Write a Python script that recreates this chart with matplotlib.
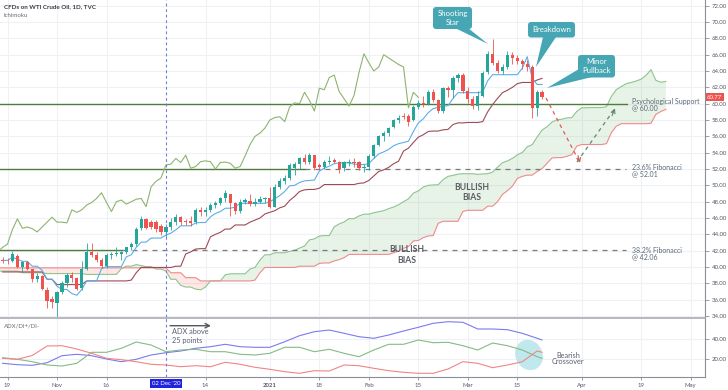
import numpy as np
import pandas as pd
import matplotlib
matplotlib.use("Agg")
import matplotlib.pyplot as plt
from matplotlib.patches import FancyBboxPatch, Polygon, Ellipse

plt.rcParams['font.family'] = ['Lato', 'DejaVu Sans']

# ---------------- data ----------------
first_candle = "2020-10-16"
opens = [40.85, 40.80, 40.75, 41.35, 40.00, 40.60, 39.70, 38.50, 38.90, 37.20,
         36.10, 35.60, 37.00, 38.00, 39.00, 38.60, 37.40, 39.80, 41.80, 41.50,
         40.90, 40.10, 41.50, 41.60, 41.65, 41.85, 42.40, 42.80, 44.75, 45.90,
         45.50, 45.50, 45.00, 44.30, 44.90, 45.50, 46.10, 45.65, 45.60, 45.50,
         47.00, 46.70, 47.00, 47.60, 47.90, 48.40, 48.90, 47.90, 46.80, 48.00,
         48.10, 47.70, 48.00, 48.30, 48.40, 47.40, 49.80, 50.50, 50.90, 52.10,
         52.60, 53.30, 52.80, 53.70, 52.50, 52.30, 52.90, 53.10, 52.90, 52.10,
         52.75, 52.90, 52.80, 52.10, 52.20, 53.60, 55.00, 56.00, 56.40, 57.10,
         58.00, 58.50, 58.50, 58.00, 59.60, 60.10, 60.00, 61.40, 60.40, 59.10,
         61.90, 61.70, 63.20, 63.50, 61.50, 60.60, 59.70, 61.00, 63.90, 66.10,
         65.00, 64.00, 64.50, 66.00, 65.60, 65.20, 64.80, 64.50, 59.50, 61.40]
highs = [41.20, 41.10, 42.00, 41.60, 40.80, 40.80, 39.80, 39.30, 39.00, 37.50,
         36.40, 37.10, 38.30, 39.30, 39.40, 38.80, 40.80, 42.90, 42.90, 41.90,
         41.10, 41.70, 41.80, 42.40, 42.00, 42.50, 43.10, 44.90, 46.20, 46.00,
         45.70, 45.80, 45.30, 45.30, 46.00, 46.50, 46.30, 45.90, 46.20, 47.20,
         47.30, 47.30, 47.80, 48.10, 48.60, 49.40, 49.00, 48.00, 48.30, 48.40,
         48.90, 48.40, 48.70, 48.60, 49.80, 50.20, 50.90, 51.30, 52.70, 52.80,
         53.50, 53.90, 54.00, 53.70, 52.70, 53.10, 53.60, 53.40, 53.00, 53.00,
         53.20, 53.30, 53.00, 52.60, 53.80, 55.10, 56.20, 56.60, 57.20, 58.10,
         58.60, 58.90, 58.70, 59.80, 60.50, 60.90, 61.70, 61.80, 60.60, 62.10,
         62.20, 63.40, 63.80, 63.70, 62.00, 61.00, 61.50, 64.00, 66.40, 67.90,
         65.40, 64.90, 66.40, 66.30, 66.00, 65.50, 65.40, 64.70, 61.70, 61.70]
lows = [40.45, 40.40, 40.60, 39.90, 39.40, 39.60, 38.20, 38.20, 37.20, 35.00,
        35.00, 33.70, 36.70, 37.60, 38.20, 37.20, 37.20, 39.60, 41.20, 40.60,
        39.90, 39.90, 41.00, 41.30, 40.90, 41.60, 42.10, 42.60, 44.50, 44.60,
        44.60, 44.30, 43.90, 43.60, 44.50, 45.20, 45.20, 45.10, 45.00, 45.30,
        46.20, 46.30, 46.70, 47.20, 47.60, 48.00, 46.20, 46.50, 46.60, 47.70,
        47.50, 47.50, 47.80, 47.90, 47.20, 47.30, 49.50, 50.20, 50.70, 51.30,
        52.00, 52.60, 52.60, 51.90, 51.90, 52.00, 52.60, 52.70, 51.50, 51.80,
        52.40, 52.30, 51.90, 51.60, 51.90, 53.40, 54.80, 55.40, 56.10, 57.00,
        57.60, 58.10, 57.30, 57.90, 59.40, 59.60, 59.80, 60.20, 58.90, 58.90,
        60.80, 60.70, 62.60, 61.30, 60.10, 59.30, 59.20, 60.80, 63.60, 64.70,
        63.70, 63.60, 64.30, 64.90, 64.90, 64.30, 64.00, 58.30, 58.50, 60.60]
closes = [40.75, 40.70, 41.60, 40.00, 40.60, 39.80, 38.50, 38.90, 37.30, 35.80,
          35.70, 37.00, 38.00, 39.00, 38.60, 37.30, 39.80, 41.80, 41.50, 40.90,
          40.10, 41.50, 41.60, 41.75, 41.85, 42.40, 42.80, 44.60, 45.90, 44.75,
          44.90, 44.70, 44.30, 44.90, 45.50, 46.10, 45.50, 45.50, 45.40, 47.00,
          46.70, 47.00, 47.60, 47.90, 48.40, 49.10, 47.90, 46.80, 48.00, 48.20,
          47.70, 48.00, 48.30, 48.40, 47.40, 49.80, 50.50, 50.90, 52.50, 52.60,
          53.30, 52.80, 53.70, 52.10, 52.30, 52.90, 53.00, 52.90, 52.00, 52.80,
          52.85, 52.70, 52.10, 52.30, 53.60, 55.00, 56.00, 56.40, 57.00, 58.00,
          58.30, 58.40, 57.80, 59.60, 60.10, 60.00, 61.40, 60.40, 59.10, 61.90,
          61.70, 63.20, 63.50, 61.50, 60.60, 59.70, 61.00, 63.80, 66.10, 65.00,
          64.00, 64.50, 66.00, 65.60, 65.20, 64.80, 64.50, 59.50, 61.40, 60.77]

# Ichimoku values before the visible history is long enough
kijun_early = [39.4, 39.4, 39.4, 39.4, 39.4, 39.4, 39.4, 39.4, 39.4]
spanA_early = [39.5, 39.5, 39.5, 39.5, 39.5, 39.3, 39.3, 39.3, 39.3, 39.3,
               39.2, 39.2, 39.2, 39.2, 39.2, 39.2, 39.2, 39.2, 39.1, 39.1,
               39.1, 39.1, 39.1, 39.1, 39.1, 39.8]
spanB_early = [39.9] * 35 + [39.3, 39.3, 39.3, 38.7, 38.7, 38.7, 38.3, 38.3, 38.3, 38.3]

# ADX / DI+ / DI- sampled every third session from the first candle
adx_vals = [15.7, 14.3, 13.7, 16.3, 23.3, 24.7, 23.3, 20.0, 17.3, 19.7,
            24.0, 26.3, 28.0, 30.7, 32.3, 34.7, 32.3, 31.7, 31.7, 37.3,
            43.3, 47.3, 49.0, 45.7, 42.3, 40.7, 44.0, 48.0, 51.7, 55.7,
            57.3, 56.7, 50.0, 50.0, 49.3, 45.7, 40.7, 39.0]
di_plus = [21.3, 19.7, 17.3, 14.0, 13.0, 15.7, 26.7, 26.7, 30.7, 37.0,
           34.0, 27.3, 29.0, 29.7, 27.3, 27.3, 24.7, 24.0, 25.7, 31.7,
           31.7, 27.3, 29.7, 25.7, 22.3, 29.0, 34.7, 34.7, 39.0, 36.3,
           36.7, 33.3, 29.0, 36.0, 33.3, 29.0, 22.3, 20.7]
di_minus = [20.7, 19.7, 23.5, 33.0, 33.3, 30.0, 25.7, 20.7, 19.3, 17.3,
            14.7, 14.0, 12.3, 13.3, 12.3, 16.7, 14.7, 11.7, 9.7, 7.3,
            5.7, 8.3, 8.0, 14.0, 13.3, 10.7, 8.3, 6.7, 5.7, 5.7,
            10.0, 17.3, 15.7, 11.3, 14.0, 17.3, 28.0, 26.7]

levels = [60.00, 52.01, 42.06]
level_text = [("Psychological Support", "@ 60.00"),
              ("23.6% Fibonacci", "@ 52.01"),
              ("38.2% Fibonacci", "@ 42.06")]
price_ticks = list(range(34, 73, 2))
adx_ticks = [20, 40]
xtick_dates = ["2020-10-19", "2020-11-02", "2020-11-16", "2020-12-14", "2021-01-04",
               "2021-01-18", "2021-02-01", "2021-02-15", "2021-03-01", "2021-03-15",
               "2021-04-01", "2021-04-19", "2021-05-03"]
xtick_labels = ["19", "Nov", "16", "14", "2021", "18", "Feb", "15", "Mar", "15",
                "Apr", "19", "May"]
marker_date = "2020-12-02"
marker_label = "02 Dec '20"
last_price = 60.77

# ---------------- session calendar (bar positions) ----------------
holidays = pd.to_datetime(["2020-12-25", "2021-01-01"])
cal = pd.bdate_range("2020-10-15", "2021-05-31")
cal = cal[~cal.isin(holidays)]
pos_of = {d: i for i, d in enumerate(cal)}


def P(d):
    return pos_of[pd.Timestamp(d)]


n = len(opens)
c0 = P(first_candle)
cpos = np.arange(c0, c0 + n)
O = pd.Series(opens); H = pd.Series(highs); L = pd.Series(lows); C = pd.Series(closes)

# Ichimoku (9, 26, 52) with TradingView's plot offset of 25 bars
SHIFT = 25
tenkan = (H.rolling(9, min_periods=1).max() + L.rolling(9, min_periods=1).min()) / 2
kijun = (H.rolling(26, min_periods=1).max() + L.rolling(26, min_periods=1).min()) / 2
kijun.iloc[:len(kijun_early)] = kijun_early
spanA_calc = (tenkan + kijun) / 2
spanB_calc = (H.rolling(52, min_periods=1).max() + L.rolling(52, min_periods=1).min()) / 2
lead_pos = cpos + SHIFT


def combine(early, calc):
    mask = lead_pos >= len(early)
    return (np.concatenate([np.arange(len(early)), lead_pos[mask]]),
            np.concatenate([np.array(early, float), calc.values[mask]]))


a_pos, spanA = combine(spanA_early, spanA_calc)
b_pos, spanB = combine(spanB_early, spanB_calc)

adx_pos = list(cpos[::3]) + [cpos[-1]]

# ---------------- figure ----------------
W, Hh = 728, 390
fig = plt.figure(figsize=(W / 100, Hh / 100), dpi=100)
fig.patch.set_facecolor("white")


def px_to_pos(x):
    return 2 + (x - 7.5) / 4.95


ax = fig.add_axes([0, 1 - 317 / Hh, 705 / W, 317 / Hh])
adx = fig.add_axes([0, 1 - 377 / Hh, 705 / W, 59 / Hh])
ov = fig.add_axes([0, 0, 1, 1], zorder=10)
ov.set_xlim(0, W); ov.set_ylim(Hh, 0); ov.axis("off")

xlim = (px_to_pos(0), px_to_pos(705))
ax.set_xlim(*xlim)
ax.set_ylim(70 - (317 - 22) / 8.168, 70 + 22 / 8.168)
adx.set_xlim(*xlim)
adx.set_ylim(2, 61)

grid_c = "#eef1f6"
tick_pos = [P(d) for d in xtick_dates]
for a in (ax, adx):
    for tp in tick_pos:
        a.axvline(tp, color=grid_c, lw=0.8, zorder=0)
for t in price_ticks:
    ax.axhline(t, color=grid_c, lw=0.8, zorder=0)
for t in adx_ticks:
    adx.axhline(t, color=grid_c, lw=0.8, zorder=0)

# cloud
ax.fill_between(a_pos, spanA, spanB, where=spanA >= spanB, interpolate=True,
                color="#43a047", alpha=0.12, lw=0, zorder=1)
ax.fill_between(a_pos, spanA, spanB, where=spanA < spanB, interpolate=True,
                color="#f44336", alpha=0.12, lw=0, zorder=1)
ax.plot(a_pos, spanA, color="#8fc48f", lw=0.8, zorder=2)
ax.plot(b_pos, spanB, color="#ee8a8a", lw=0.8, zorder=2)

# level lines
solid_end = [px_to_pos(627), px_to_pos(305), px_to_pos(122)]
line_end = px_to_pos(626)
for lv, se in zip(levels, solid_end):
    ax.plot([xlim[0], se], [lv, lv], color="#4d7c3c", lw=1.0, zorder=2)
    if se < line_end:
        ax.plot([se, line_end], [lv, lv], color="#7a7a7a", lw=0.9,
                ls=(0, (4, 4)), zorder=2)

# ichimoku lines
ax.plot(cpos - SHIFT, C, color="#8db46f", lw=0.8, zorder=3)
ax.plot(cpos, kijun, color="#9e4b55", lw=0.8, zorder=3)
ax.plot(cpos, tenkan, color="#5daee8", lw=0.8, zorder=3)

# candles
up = C >= O
col = np.where(up, "#26a69a", "#ef5350")
ax.vlines(cpos, L, H, colors=col, lw=0.6, zorder=4)
body = np.maximum(np.abs(C - O), 0.08)
ax.bar(cpos, body, bottom=np.minimum(O, C), width=0.66, color=col, lw=0, zorder=5)

# projection arrows
red_a = (px_to_pos(546), 60.7); red_b = (px_to_pos(580), 52.75)
ax.plot([red_a[0], red_b[0]], [red_a[1], red_b[1]], color="#e05b5b", lw=0.9,
        ls=(0, (3, 3)), zorder=6)
ax.annotate("", xy=red_b, xytext=(red_b[0] - 0.4, red_b[1] + 0.9),
            arrowprops=dict(arrowstyle="->", color="#e05b5b", lw=0.8,
                            mutation_scale=7, shrinkA=0, shrinkB=0), zorder=6)
g_a = (px_to_pos(577), 52.86); g_b = (px_to_pos(615), 59.43)
ax.plot([g_a[0], g_b[0]], [g_a[1], g_b[1]], color="#5f8a63", lw=0.9,
        ls=(0, (3, 3)), zorder=6)
ax.annotate("", xy=g_b, xytext=(g_b[0] - 0.6, g_b[1] - 0.9),
            arrowprops=dict(arrowstyle="->", color="#5f8a63", lw=0.8,
                            mutation_scale=7, shrinkA=0, shrinkB=0), zorder=6)

# ADX panel
adx.plot(adx_pos, adx_vals, color="#7b7bee", lw=0.8, zorder=3)
adx.plot(adx_pos, di_plus, color="#85bb85", lw=0.8, zorder=3)
adx.plot(adx_pos, di_minus, color="#f08585", lw=0.8, zorder=3)
adx.add_patch(Ellipse((529, 355), 27, 31, angle=-25, transform=ov.transData,
                      facecolor="#b9e6ec", edgecolor="none", alpha=0.9, zorder=2))

# marker line
for a in (ax, adx):
    a.axvline(P(marker_date), color="#6f7fd6", lw=0.8, ls=(0, (2.5, 2.5)), zorder=7)

# axes styling
axis_c = "#555a62"
for a in (ax, adx):
    for s in ("top", "left", "bottom"):
        a.spines[s].set_visible(False)
    a.spines["right"].set_color("#8a8e96")
    a.spines["right"].set_linewidth(0.8)
    a.yaxis.tick_right()
    a.tick_params(axis="y", which="both", length=3, width=0.6, color="#8a8e96",
                  labelsize=4.3, labelcolor=axis_c, pad=2)
    a.set_facecolor("none")
adx.spines["top"].set_visible(True)
adx.spines["top"].set_color("#a9acb3")
adx.spines["top"].set_linewidth(1.2)
adx.spines["bottom"].set_visible(True)
adx.spines["bottom"].set_color("#8a8e96")
adx.spines["bottom"].set_linewidth(0.8)
ax.set_yticks(price_ticks)
ax.set_yticklabels([f"{t:.2f}" for t in price_ticks])
adx.set_yticks(adx_ticks)
adx.set_yticklabels([f"{t:.2f}" for t in adx_ticks])
ax.set_xticks([])
adx.set_xticks(tick_pos)
adx.set_xticklabels(xtick_labels)
adx.tick_params(axis="x", length=2, width=0.6, color="#8a8e96", labelsize=4.3,
                labelcolor=axis_c, pad=2.5)
for lbl in adx.get_xticklabels():
    if lbl.get_text() == "2021":
        lbl.set_fontweight("bold")

# last price tag
ax.text(1.003, last_price, f"{last_price:.2f}", transform=ax.get_yaxis_transform(),
        ha="left", va="center", fontsize=4.3, color="white", zorder=20,
        bbox=dict(boxstyle="square,pad=0.25", fc="#ef5350", ec="none"), clip_on=False)

# marker date tag
ov.text(165.9, 383.5, marker_label, ha="center", va="center", fontsize=4.3,
        color="white", bbox=dict(boxstyle="square,pad=0.35", fc="#2323dd", ec="none"))

# titles
ov.text(4, 6.5, "CFDs on WTI Crude Oil, 1D, TVC", ha="left", va="center",
        fontsize=4.5, fontweight="bold", color="#3a3d44")
ov.text(4, 15.5, "Ichimoku", ha="left", va="center", fontsize=4.4, color="#6a6e76")
ov.text(4, 326, "ADX/DI+/DI-", ha="left", va="center", fontsize=4.4, color="#6a6e76")

# level labels
lab_c = "#5b6878"
label_y = [(101.5, 108.0), (167.5, 174.0), (250.5, 257.0)]
for (t1, t2), (y1, y2) in zip(level_text, label_y):
    ov.text(632, y1, t1, ha="left", va="center", fontsize=5.0, color=lab_c)
    ov.text(632, y2, t2, ha="left", va="center", fontsize=5.0, color=lab_c)

# bias labels
for (cx, y1, y2) in [(472, 188, 197.5), (407, 250, 260.5)]:
    ov.text(cx, y1, "BULLISH", ha="center", va="center", fontsize=6.2,
            fontweight="bold", color="#5a5d63")
    ov.text(cx, y2, "BIAS", ha="center", va="center", fontsize=6.2,
            fontweight="bold", color="#5a5d63")

# callouts
teal = "#46a6b3"


def callout(x0, y0, x1, y1, tail, lines):
    ov.add_patch(Polygon(tail, closed=True, fc=teal, ec="none"))
    ov.add_patch(FancyBboxPatch((x0, y0), x1 - x0, y1 - y0,
                                boxstyle="round,pad=0,rounding_size=3",
                                fc=teal, ec="none"))
    cx = (x0 + x1) / 2
    cy = (y0 + y1) / 2
    if len(lines) == 1:
        ov.text(cx, cy, lines[0], ha="center", va="center", fontsize=5.6, color="white")
    else:
        ov.text(cx, cy - 4.3, lines[0], ha="center", va="center", fontsize=5.6, color="white")
        ov.text(cx, cy + 4.3, lines[1], ha="center", va="center", fontsize=5.6, color="white")


callout(433, 7, 472, 29, [(455, 28), (468, 28), (488, 44)], ["Shooting", "Star"])
callout(528, 22, 575, 37.5, [(543, 37), (556, 37), (536, 67)], ["Breakdown"])
callout(578, 55, 615, 77.5, [(579, 69), (592, 77), (547, 88)], ["Minor", "Pullback"])

# ADX annotations
ov.annotate("", xy=(211, 325.7), xytext=(170, 325.7),
            arrowprops=dict(arrowstyle="->", color="#55585e", lw=1.0,
                            mutation_scale=8, shrinkA=0, shrinkB=0))
ov.text(172, 332, "ADX above", ha="left", va="center", fontsize=5.3, color="#5b6070")
ov.text(172, 340, "25 points", ha="left", va="center", fontsize=5.3, color="#5b6070")
ov.text(568, 355, "Bearish", ha="center", va="center", fontsize=5.3, color="#5b6070")
ov.text(568, 361.5, "Crossover", ha="center", va="center", fontsize=5.3, color="#5b6070")

fig.savefig("out.png", dpi=100, facecolor="white")
